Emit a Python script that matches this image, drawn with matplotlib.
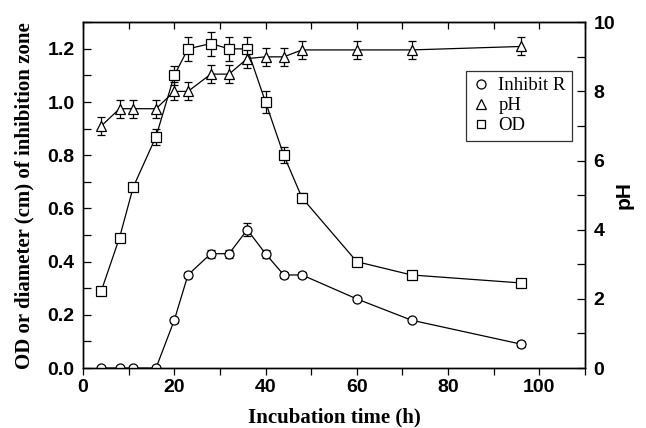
import matplotlib
matplotlib.use("Agg")
import matplotlib.pyplot as plt
from matplotlib.ticker import MultipleLocator
from matplotlib.lines import Line2D

time_h = [4, 8, 11, 16, 20, 23, 28, 32, 36, 40, 44, 48, 60, 72, 96]
od = [0.29, 0.49, 0.68, 0.87, 1.10, 1.20, 1.22, 1.20, 1.20, 1.00, 0.80, 0.64, 0.40, 0.35, 0.32]
od_err = [0.0, 0.015, 0.015, 0.03, 0.035, 0.045, 0.045, 0.045, 0.045, 0.04, 0.03, 0.02, 0.01, 0.0, 0.0]
inhib = [0.0, 0.0, 0.0, 0.0, 0.18, 0.35, 0.43, 0.43, 0.52, 0.43, 0.35, 0.35, 0.26, 0.18, 0.09]
inhib_err = [0.0, 0.0, 0.0, 0.0, 0.01, 0.01, 0.015, 0.015, 0.025, 0.015, 0.01, 0.01, 0.005, 0.005, 0.01]
ph = [7.0, 7.5, 7.5, 7.5, 8.0, 8.0, 8.5, 8.5, 8.95, 9.0, 9.0, 9.2, 9.2, 9.2, 9.3]
ph_err = [0.26] * 15

sans = ["Liberation Sans", "DejaVu Sans"]
serif = ["Liberation Serif", "DejaVu Serif"]

fig = plt.figure(figsize=(6.46, 4.28), dpi=100)
ax = fig.add_axes([0.1285, 0.140, 0.777, 0.808])
ax2 = ax.twinx()

mk = dict(markerfacecolor="white", markeredgecolor="black", markeredgewidth=0.9,
          markersize=6.5, color="black", linewidth=0.9, capsize=2.7, elinewidth=0.9,
          capthick=0.9, ecolor="black")

ax.errorbar(time_h, od, yerr=od_err, marker="s", zorder=3, **mk)
ax.errorbar(time_h, inhib, yerr=inhib_err, marker="o", zorder=3, **mk)
ax2.errorbar(time_h, ph, yerr=ph_err, marker="^", zorder=3, **mk)

ax.set_xlim(0, 110)
ax.set_ylim(0, 1.3)
ax2.set_ylim(0, 10)

ax.xaxis.set_major_locator(MultipleLocator(20))
ax.xaxis.set_minor_locator(MultipleLocator(10))
ax.yaxis.set_minor_locator(MultipleLocator(0.1))
ax2.yaxis.set_minor_locator(MultipleLocator(1))

ax.tick_params(axis="x", which="both", direction="out", top=False, length=5, width=0.9, pad=3)
ax.tick_params(axis="y", which="both", direction="in", length=6, width=0.9, pad=6)
ax2.tick_params(axis="y", which="both", direction="in", length=6, width=0.9, pad=6)

ax.set_yticks([0, 0.2, 0.4, 0.6, 0.8, 1.0, 1.2])
ax.set_yticklabels(["0.0", "0.2", "0.4", "0.6", "0.8", "1.0", "1.2"])
ax2.set_yticks([0, 2, 4, 6, 8, 10])

for lab in ax.get_xticklabels() + ax.get_yticklabels() + ax2.get_yticklabels():
    lab.set_fontfamily(sans)
    lab.set_fontweight("bold")
    lab.set_fontsize(14)

# top ticks inward
secx = ax.secondary_xaxis("top")
secx.xaxis.set_major_locator(MultipleLocator(10))
secx.tick_params(direction="in", length=5, width=0.9, labeltop=False)

for sp in list(ax.spines.values()) + list(ax2.spines.values()):
    sp.set_linewidth(1.0)

ax.set_xlabel("Incubation time (h)", fontfamily=serif, fontweight="bold", fontsize=15, va="center")
ax.xaxis.set_label_coords(0.5, -0.142)
ax.set_ylabel("OD or diameter (cm) of inhibition zone", fontfamily=serif, fontweight="bold", fontsize=15, va="center")
ax.yaxis.set_label_coords(-0.116, 0.5)
ax2.set_ylabel("pH", fontfamily=sans, fontweight="bold", fontsize=15, va="center", rotation=90)
ax2.yaxis.set_label_coords(1.078, 0.5)

handles = [
    Line2D([], [], marker="o", linestyle="none", markerfacecolor="white", markeredgecolor="black", markersize=6.5, markeredgewidth=0.9),
    Line2D([], [], marker="^", linestyle="none", markerfacecolor="white", markeredgecolor="black", markersize=6.5, markeredgewidth=0.9),
    Line2D([], [], marker="s", linestyle="none", markerfacecolor="white", markeredgecolor="black", markersize=6, markeredgewidth=0.9),
]
leg = ax2.legend(handles, ["Inhibit R", "pH", "OD"], loc="upper left",
                 bbox_to_anchor=(0.764, 0.86), frameon=True, fancybox=False,
                 edgecolor="black", prop={"family": serif, "size": 13.5},
                 handlelength=0.9, handletextpad=0.45, borderpad=0.35, labelspacing=0.15,
                 borderaxespad=0)
leg.get_frame().set_linewidth(0.9)

fig.savefig("out.png", dpi=100)
